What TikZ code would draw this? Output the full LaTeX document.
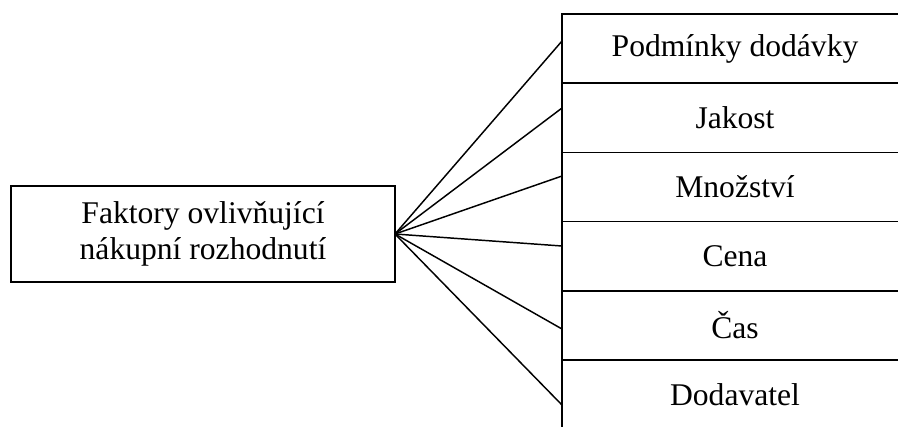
\documentclass[tikz,border=0pt]{standalone}
\usepackage{fontspec}
\setmainfont{Liberation Serif}
\usetikzlibrary{positioning}
\begin{document}
\begin{tikzpicture}[x=0.75pt,y=-0.75pt]
\tikzstyle{factor}=[draw,line width=1.3pt,outer sep=0pt,inner sep=0pt,minimum width=288pt,minimum height=72pt,align=center,font=\fontsize{23.7}{27.5}\selectfont]
\tikzstyle{item}=[draw,line width=1.3pt,outer sep=0pt,inner sep=0pt,minimum width=259.5pt,minimum height=51.9pt,font=\fontsize{23.7}{27.5}\selectfont]

\useasboundingbox (0,0) rectangle (898,426);
\clip (0,0) rectangle (898,426);

\node[factor] (faktory) at (203,234) {Faktory ovlivňující\\nákupní rozhodnutí};

\node[item,anchor=north west] (f1) at (562,14) {Podmínky dodávky};
\foreach \i/\j/\name in {2/1/Jakost,3/2/Množství,4/3/Cena,5/4/Čas,6/5/Dodavatel}
{
  \node[item,below=0pt of f\j] (f\i) {\name};
}

\foreach \i/\dy in {1/5.7,2/7.35,3/8.25,4/7.65,5/-2.7,6/-7.8}
{
  \draw[line width=1.1pt] (faktory.east) -- ([yshift=\dy pt]f\i.west);
}

\end{tikzpicture}
\end{document}
